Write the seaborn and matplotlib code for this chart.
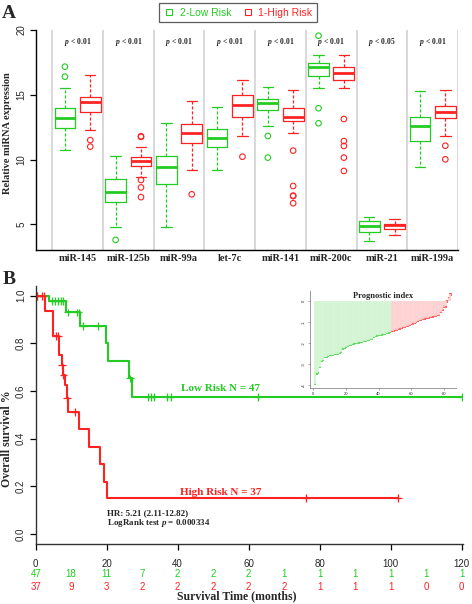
import numpy as np
import pandas as pd
import matplotlib
matplotlib.use("Agg")
import matplotlib.pyplot as plt
import matplotlib.transforms as mtransforms
from matplotlib.lines import Line2D
import seaborn as sns

### ───────────────────────────────
### data - panel A (miRNA expression)
### ───────────────────────────────
genes = ["miR-145", "miR-125b", "miR-99a", "let-7c", "miR-141", "miR-200c", "miR-21", "miR-199a"]
p_values = ["< 0.01", "< 0.01", "< 0.01", "< 0.01", "< 0.01", "< 0.01", "< 0.05", "< 0.01"]
groups = ["2-Low Risk", "1-High Risk"]

low_whislo = [10.74, 4.78, 4.82, 9.20, 12.62, 15.50, 3.73, 9.40]
low_q1 = [12.40, 6.75, 8.09, 11.00, 13.83, 16.47, 4.44, 11.46]
low_med = [13.19, 7.53, 9.40, 11.64, 14.34, 17.12, 4.88, 12.59]
low_q3 = [13.96, 8.50, 10.28, 12.33, 14.68, 17.48, 5.26, 13.31]
low_whishi = [15.50, 10.28, 12.80, 14.03, 15.63, 18.07, 5.59, 15.29]
low_out = [[17.17, 16.40], [3.80], [], [], [11.82, 10.15], [19.56, 13.96, 12.80], [], []]

high_whislo = [12.28, 8.65, 9.20, 11.82, 12.03, 15.50, 4.18, 11.82]
high_q1 = [13.65, 9.50, 11.26, 13.31, 12.98, 16.14, 4.62, 13.19]
high_med = [14.42, 9.89, 12.08, 14.21, 13.31, 16.66, 4.95, 13.65]
high_q3 = [14.86, 10.22, 12.75, 14.98, 13.96, 17.12, 5.05, 14.14]
high_whishi = [16.53, 11.00, 14.55, 16.14, 15.37, 18.07, 5.42, 15.37]
high_out = [[11.50, 11.00], [11.80, 11.75, 8.42, 7.85, 7.10], [7.32], [10.22],
            [10.69, 7.96, 7.22, 7.18, 6.63], [13.13, 11.43, 11.05, 10.15, 9.12], [], [11.07, 10.02]]

### ───────────────────────────────
### data - panel B (Kaplan-Meier)
### ───────────────────────────────
low_times = [0, 3.8, 8.4, 12.6, 19.9, 20.5, 26.4, 27.2, 120.0]
low_surv = [1.0, 0.978, 0.930, 0.873, 0.800, 0.726, 0.653, 0.576, 0.576]
low_censor = [0.5, 4.5, 5.4, 6.3, 7.0, 7.7, 9.0, 11.5, 12.1, 13.4, 17.6, 26.5,
              31.6, 32.5, 33.2, 37.0, 38.1, 62.7, 120.0]

high_times = [0, 2.6, 4.9, 6.6, 7.3, 7.7, 8.2, 8.7, 9.0, 12.2, 15.0, 18.0, 19.2, 20.1, 102.2]
high_surv = [1.0, 0.936, 0.832, 0.751, 0.709, 0.667, 0.625, 0.569, 0.513, 0.439,
             0.366, 0.292, 0.219, 0.150, 0.150]
high_censor = [0.3, 1.7, 2.3, 5.6, 6.3, 7.4, 7.8, 8.8, 11.0, 76.2, 102.2]

risk_times = [0, 10, 20, 30, 40, 50, 60, 70, 80, 90, 100, 110, 120]
risk_low = [47, 18, 11, 7, 2, 2, 2, 1, 1, 1, 1, 1, 1]
risk_high = [37, 9, 3, 2, 2, 2, 2, 2, 1, 1, 1, 0, 0]

# prognostic index (sorted), 47 low risk then 37 high risk
pi_low = [-3.97, -3.46, -3.41, -3.16, -2.87, -2.82, -2.68, -2.67, -2.61, -2.58,
          -2.58, -2.56, -2.54, -2.54, -2.51, -2.49, -2.44, -2.26, -2.22, -2.19,
          -2.15, -2.11, -2.08, -2.06, -2.02, -2.01, -1.99, -1.98, -1.96, -1.95,
          -1.92, -1.89, -1.87, -1.84, -1.82, -1.79, -1.72, -1.66, -1.64, -1.63,
          -1.61, -1.59, -1.58, -1.56, -1.53, -1.50, -1.47]
pi_high = [-1.44, -1.41, -1.39, -1.36, -1.34, -1.31, -1.28, -1.25, -1.23, -1.20,
           -1.17, -1.15, -1.10, -1.07, -1.04, -0.99, -0.95, -0.91, -0.89, -0.86,
           -0.83, -0.81, -0.79, -0.78, -0.76, -0.73, -0.72, -0.70, -0.68, -0.67,
           -0.51, -0.43, -0.27, -0.26, -0.02, 0.13, 0.32]

### ───────────────────────────────
### style
### ───────────────────────────────
GREEN = "#22cc22"
RED = "#ff2222"
SERIF = "Liberation Serif"
SANS = "Liberation Sans"

sns.set_style("white")
plt.rcParams["font.family"] = [SANS, "DejaVu Sans"]
plt.rcParams["mathtext.fontset"] = "custom"
plt.rcParams["mathtext.it"] = "Liberation Serif:italic:bold"
plt.rcParams["mathtext.rm"] = "Liberation Serif:bold"

fig = plt.figure(figsize=(4.72, 6.04), dpi=100)

### ───────────────────────────────
### panel A
### ───────────────────────────────
rows = []
for i, g in enumerate(genes):
    for v in (low_whislo[i], low_q1[i], low_med[i], low_q3[i], low_whishi[i]):
        rows.append((g, groups[0], v))
    for v in (high_whislo[i], high_q1[i], high_med[i], high_q3[i], high_whishi[i]):
        rows.append((g, groups[1], v))
box_df = pd.DataFrame(rows, columns=["gene", "group", "value"])

ax_a = fig.add_axes([36 / 472, 1 - 250 / 604, 422 / 472, 220 / 604])
for i in range(len(genes) + 1):
    ax_a.axvline(i - 0.5, color="#d6d6d6", lw=1.3, zorder=0)

# 5-number summaries -> whiskers at min / max of each little set
sns.boxplot(data=box_df, x="gene", y="value", hue="group", order=genes, hue_order=groups,
            palette=[GREEN, RED], fill=False, width=1.0, gap=0.18, whis=(0, 100),
            showfliers=False, linewidth=0.9, medianprops=dict(linewidth=2.0),
            whiskerprops=dict(linestyle=(0, (2.5, 1.5))), legend=False, ax=ax_a)

offsets = {groups[0]: -0.25, groups[1]: 0.25}
for grp, outs, col in [(groups[0], low_out, GREEN), (groups[1], high_out, RED)]:
    fx, fy = [], []
    for i, vals in enumerate(outs):
        fx += [i + offsets[grp]] * len(vals)
        fy += vals
    sns.scatterplot(x=fx, y=fy, color=col, marker="o", s=16, ax=ax_a, legend=False)
    pts = ax_a.collections[-1]
    pts.set_facecolor("none")
    pts.set_edgecolor(col)
    pts.set_linewidth(0.8)

for i, p in enumerate(p_values):
    ax_a.text(i, 19.07, r"$p$ " + p, ha="center", va="center", fontsize=5.5,
              family=SERIF, weight="bold")

ax_a.set_xlim(-0.82, 7.5)
ax_a.set_ylim(3.02, 20)
ax_a.set_xlabel("")
ax_a.set_ylabel("")
ax_a.set_xticks(range(len(genes)))
ax_a.set_xticklabels(genes, family=SERIF, weight="bold", fontsize=7.5)
ax_a.tick_params(axis="x", length=0, pad=3)
ax_a.set_yticks([5, 10, 15, 20])
ax_a.set_yticklabels(["5", "10", "15", "20"], fontsize=7, rotation=90, va="center")
ax_a.tick_params(axis="y", left=True, length=4, width=0.9, pad=3, color="black")
sns.despine(ax=ax_a)
for s in ["left", "bottom"]:
    ax_a.spines[s].set_color("black")
    ax_a.spines[s].set_linewidth(1.0)

handles = [Line2D([], [], marker="s", ls="none", mfc="none", mec=GREEN, ms=3.8, mew=0.8, label=groups[0]),
           Line2D([], [], marker="s", ls="none", mfc="none", mec=RED, ms=3.8, mew=0.8, label=groups[1])]
leg = fig.legend(handles=handles, loc="center", bbox_to_anchor=(238 / 472, 1 - 12.5 / 604), ncol=2,
                 frameon=True, fancybox=False, edgecolor="#333333", fontsize=7.5,
                 handlelength=1.0, handletextpad=0.5, columnspacing=1.1, borderpad=0.45)
leg.get_frame().set_linewidth(0.9)
for t, c in zip(leg.get_texts(), [GREEN, RED]):
    t.set_color(c)

fig.text(9 / 472, 1 - 13 / 604, "A", family=SERIF, weight="bold", fontsize=14, ha="center", va="center")
fig.text(8 / 472, 1 - 133 / 604, "Relative miRNA expression", family=SERIF, weight="bold",
         fontsize=7.5, rotation=90, ha="center", va="center")

### ───────────────────────────────
### panel B
### ───────────────────────────────
km_df = pd.concat([
    pd.DataFrame({"time": low_times, "surv": low_surv, "group": "Low"}),
    pd.DataFrame({"time": high_times, "surv": high_surv, "group": "High"}),
])


def surv_at(times, surv, t):
    idx = np.searchsorted(times, t, side="right") - 1
    return np.asarray(surv)[idx]


cens_df = pd.concat([
    pd.DataFrame({"time": low_censor, "surv": surv_at(low_times, low_surv, low_censor), "group": "Low"}),
    pd.DataFrame({"time": high_censor, "surv": surv_at(high_times, high_surv, high_censor), "group": "High"}),
])

ax_b = fig.add_axes([35.7 / 472, 1 - 543.5 / 604, 427.6 / 472, 257.3 / 604])
sns.lineplot(data=km_df, x="time", y="surv", hue="group", hue_order=["Low", "High"],
             palette=[GREEN, RED], estimator=None, drawstyle="steps-post", linewidth=1.5,
             legend=False, ax=ax_b)
sns.scatterplot(data=cens_df, x="time", y="surv", hue="group", hue_order=["Low", "High"],
                palette=[GREEN, RED], marker="+", s=30, linewidth=0.9, legend=False, ax=ax_b)

ax_b.set_xlim(0, 120.5)
ax_b.set_ylim(-0.04, 1.04)
ax_b.set_xlabel("")
ax_b.set_ylabel("")
ax_b.set_xticks(range(0, 121, 20))
ax_b.set_xticklabels([str(v) for v in range(0, 121, 20)], fontsize=7)
ax_b.tick_params(axis="x", bottom=True, length=4, width=0.9, pad=7, color="black")
ax_b.set_yticks([0, 0.2, 0.4, 0.6, 0.8, 1.0])
ax_b.set_yticklabels(["0.0", "0.2", "0.4", "0.6", "0.8", "1.0"], fontsize=7, rotation=90, va="center")
ax_b.tick_params(axis="y", left=True, length=4, width=0.9, pad=3, color="black")
sns.despine(ax=ax_b)
for s in ["left", "bottom"]:
    ax_b.spines[s].set_color("#333333")
    ax_b.spines[s].set_linewidth(1.0)

ax_b.text(52.1, 0.611, "Low Risk N = 47", color=GREEN, family=SERIF, weight="bold",
          fontsize=8, ha="center", va="center")
ax_b.text(52.1, 0.175, "High Risk N = 37", color=RED, family=SERIF, weight="bold",
          fontsize=8, ha="center", va="center")
ax_b.text(20.1, 0.087, "HR: 5.21 (2.11-12.82)", family=SERIF, weight="bold",
          fontsize=6.5, ha="left", va="center")
ax_b.text(20.1, 0.045, r"LogRank test $p$ = 0.000334", family=SERIF, weight="bold",
          fontsize=6.5, ha="left", va="center")

trans = mtransforms.blended_transform_factory(ax_b.transData, fig.transFigure)
for t, nl, nh in zip(risk_times, risk_low, risk_high):
    fig.text(t, 1 - 574 / 604, str(nl), color=GREEN, fontsize=7, ha="center", va="center", transform=trans)
    fig.text(t, 1 - 586.7 / 604, str(nh), color=RED, fontsize=7, ha="center", va="center", transform=trans)

fig.text(236.7 / 472, 1 - 596.7 / 604, "Survival Time (months)", family=SERIF, weight="bold",
         fontsize=8.5, ha="center", va="center")
fig.text(7 / 472, 1 - 439 / 604, "Overall survival %", family=SERIF, weight="bold",
         fontsize=8.5, rotation=90, ha="center", va="center")
fig.text(9 / 472, 1 - 279.7 / 604, "B", family=SERIF, weight="bold", fontsize=14, ha="center", va="center")

### ───────────────────────────────
### inset - prognostic index
### ───────────────────────────────
pi_vals = pi_low + pi_high
pi_df = pd.DataFrame({
    "idx": np.arange(1, len(pi_vals) + 1),
    "pi": pi_vals,
    "group": ["Low"] * len(pi_low) + ["High"] * len(pi_high),
})

ax_in = fig.add_axes([309.5 / 472, 1 - 388.3 / 604, 146.4 / 472, 97.5 / 604])
ax_in.patch.set_alpha(0)
seg_cols = np.where(pi_df["group"] == "Low", "#d2f4d2", "#ffd0d0")
ax_in.vlines(pi_df["idx"], pi_df["pi"], 0, colors=seg_cols, linewidth=1.3)
sns.scatterplot(data=pi_df, x="idx", y="pi", hue="group", hue_order=["Low", "High"],
                palette=["#66dd66", "#ff6666"], marker="s", s=3, linewidth=0,
                legend=False, ax=ax_in)
ax_in.set_xlim(-2.32, 87.32)
ax_in.set_ylim(-4.17, 0.49)
ax_in.set_xlabel("")
ax_in.set_ylabel("")
ax_in.set_xticks([0, 20, 40, 60, 80])
ax_in.set_xticklabels(["0", "20", "40", "60", "80"], fontsize=3)
ax_in.set_yticks([-4, -3, -2, -1, 0])
ax_in.set_yticklabels(["-4", "-3", "-2", "-1", "0"], fontsize=3, rotation=90, va="center")
ax_in.tick_params(axis="both", bottom=True, left=True, length=1.5, width=0.5, pad=1, color="#888888")
sns.despine(ax=ax_in)
for s in ["left", "bottom"]:
    ax_in.spines[s].set_color("#888888")
    ax_in.spines[s].set_linewidth(0.6)
ax_in.text(0.5, 0.947, "Prognostic index", transform=ax_in.transAxes, family=SERIF,
           weight="bold", fontsize=6, ha="center", va="center")

fig.savefig("out.png", dpi=100)
